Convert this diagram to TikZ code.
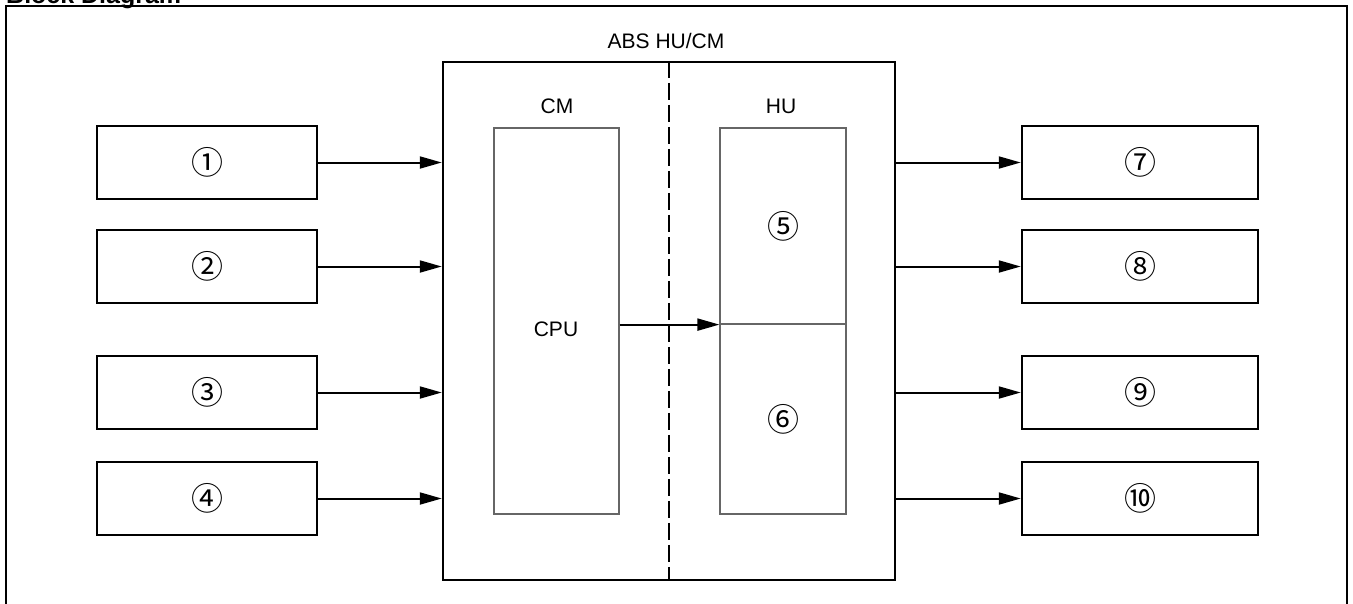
\documentclass[tikz,border=0pt]{standalone}
\usepackage{fontspec}
\setmainfont{Liberation Sans}
\newfontfamily\circfont{Noto Sans CJK JP}
\usetikzlibrary{arrows.meta}
\tikzset{
  num/.style={font=\circfont\fontsize{32}{32}\selectfont},
  blk/.style={draw=black, line width=2.5pt, minimum width=220pt, minimum height=73pt, inner sep=0pt, num},
  outblk/.style={blk, minimum width=236pt},
  inner/.style={draw=black!60, line width=1.2pt, inner sep=0pt, minimum width=125pt},
  arr/.style={line width=2pt, -{Triangle[length=22pt,width=12pt]}},
  lbl/.style={font=\fontsize{21}{21}\selectfont, inner sep=0pt}
}
\begin{document}
\begin{tikzpicture}[x=1pt,y=-1pt]
\useasboundingbox (0,0) rectangle (1353,603);
% title (cut off at top, as in the reference)
\node[anchor=base west, inner sep=0pt, font=\bfseries\fontsize{25}{25}\selectfont] (title) at (6,3) {Block Diagram};
% outer frame
\draw[line width=2.5pt] (6,620) -- (6,6) -- (1347,6) -- (1347,620);
% main unit
\node[draw=black, line width=2.5pt, minimum width=452pt, minimum height=518pt, inner sep=0pt] (big) at (669,321) {};
\draw[line width=2.5pt, dash pattern=on 17pt off 5pt] (big.north) -- (big.south);
\node[lbl, anchor=base] (abs) at (666,48) {ABS HU/CM};
\node[lbl, anchor=base] (cm) at (557,113) {CM};
\node[lbl, anchor=base] (hu) at (781,113) {HU};
% CPU
\node[inner, minimum height=386pt] (cpu) at (556.5,321) {};
\node[lbl] (cputxt) at (556,329) {CPU};
% HU blocks
\node[inner, minimum width=126pt, minimum height=196pt, num] (hu5) at (783,226) {⑤};
\node[inner, minimum width=126pt, minimum height=190pt, num] (hu6) at (783,419) {⑥};
\draw[arr] (cpu.east |- hu5.south) -- (hu5.south west);
% inputs
\node[blk] (in1) at (207,162.5) {①};
\node[blk] (in2) at (207,266.5) {②};
\node[blk] (in3) at (207,392.5) {③};
\node[blk] (in4) at (207,498.5) {④};
\foreach \i in {1,...,4}{
  \draw[arr] (in\i.east) -- (big.west |- in\i.east);
}
% outputs
\node[outblk] (out7) at (1140,162.5) {⑦};
\node[outblk] (out8) at (1140,266.5) {⑧};
\node[outblk] (out9) at (1140,392.5) {⑨};
\node[outblk] (out10) at (1140,498.5) {⑩};
\foreach \i in {7,8,9,10}{
  \draw[arr] (big.east |- out\i.west) -- (out\i.west);
}
\end{tikzpicture}
\end{document}
